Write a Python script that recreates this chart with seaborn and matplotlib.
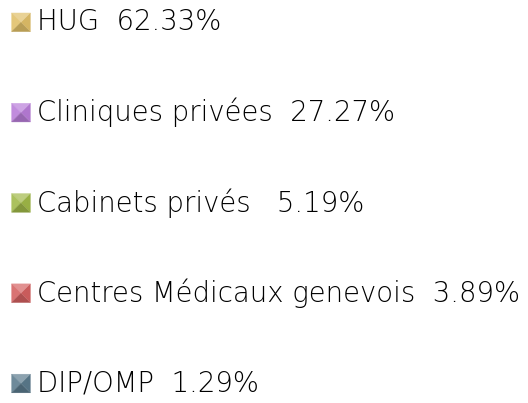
import matplotlib
matplotlib.use("Agg")
import matplotlib.pyplot as plt
import seaborn as sns
import pandas as pd
import numpy as np
from matplotlib.colors import to_rgb

# données
categories = ["HUG", "Cliniques privées", "Cabinets privés",
              "Centres Médicaux genevois", "DIP/OMP"]
parts = [62.33, 27.27, 5.19, 3.89, 1.29]
couleurs = ["#e0bf68", "#b87cd8", "#a0b848", "#d46060", "#5a7a8c"]

df = pd.DataFrame({"cat": categories, "part": parts,
                   "rang": range(len(categories)), "x": 0})

sns.set_theme(style="white")
plt.rcParams["font.family"] = ["DejaVu Sans"]

fig = plt.figure(figsize=(5.28, 4.03), dpi=100)
ax = fig.add_axes([0, 0, 1, 1])


def teinte(c, f):
    # f > 0 : vers le blanc, f < 0 : vers le noir
    c = np.array(to_rgb(c))
    return tuple(c + (1 - c) * f) if f > 0 else tuple(c * (1 + f))


# carré biseauté : quatre triangles
faces = {
    "haut": ([(-1, 1), (1, 1), (0, 0)], 0.30),
    "gauche": ([(-1, -1), (-1, 1), (0, 0)], 0.12),
    "droite": ([(1, 1), (1, -1), (0, 0)], -0.05),
    "bas": ([(1, -1), (-1, -1), (0, 0)], -0.18),
}
for nom, (verts, f) in faces.items():
    pal = [teinte(c, f) for c in couleurs]
    sns.scatterplot(data=df, x="x", y="rang", hue="cat", palette=pal,
                    marker=verts, s=180, linewidth=0.3, edgecolor=pal,
                    legend=False, ax=ax)

for _, r in df.iterrows():
    ecart = "   " if r["cat"] == "Cabinets privés" else "  "
    ax.text(r["x"] + 16, r["rang"], f"{r['cat']}{ecart}{r['part']:.2f}%",
            ha="left", va="center", fontsize=19.8, fontweight=200,
            color="#000000")

ax.set_xlim(-21, 507)
ax.set_ylim(4.216, -0.247)
ax.axis("off")

fig.savefig("out.png", dpi=100)
